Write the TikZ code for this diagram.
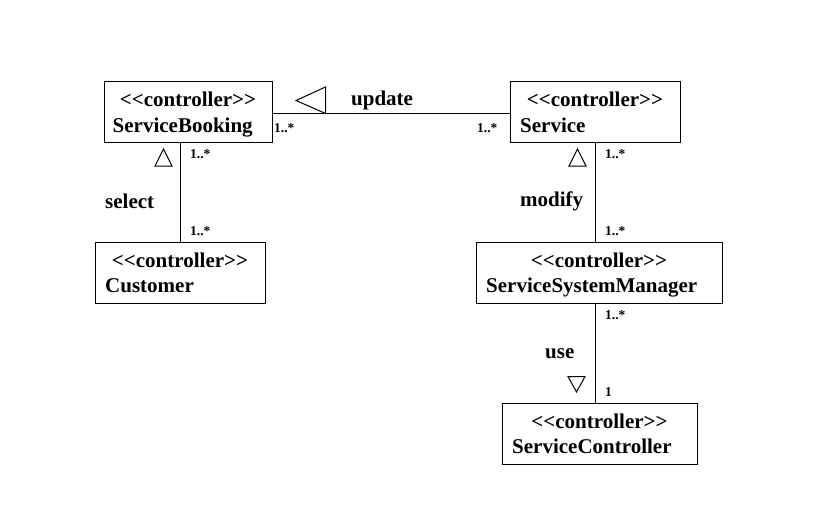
\documentclass[tikz,border=0pt]{standalone}
\usepackage{fontspec}
\setmainfont{Liberation Serif}[Ligatures=TeXOff]
\begin{document}
\begin{tikzpicture}[x=1pt,y=-1pt,
  box/.style={draw, line width=1pt, inner sep=0pt, minimum height=61, anchor=north west},
  stereo/.style={inner sep=0pt, anchor=base, font=\fontsize{21}{24}\selectfont\bfseries},
  cname/.style={inner sep=0pt, anchor=base west, font=\fontsize{21}{24}\selectfont\bfseries},
  lbl/.style={inner sep=0pt, anchor=west, font=\fontsize{21}{24}\selectfont\bfseries},
  mult/.style={inner sep=0pt, anchor=west, font=\fontsize{13.5}{16}\selectfont\bfseries},
  conn/.style={line width=1pt},
  tri/.style={line width=1pt, line join=miter}]
\useasboundingbox[fill=white] (0,0) rectangle (835,525);

% boxes
\node[box, minimum width=168] (sb) at (103.5,80.5) {};
\node[box, minimum width=170] (sv) at (509.5,80.5) {};
\node[box, minimum width=170] (cu) at (94.5,241.5) {};
\node[box, minimum width=246] (ssm) at (475.5,241.5) {};
\node[box, minimum width=195] (sc) at (501.5,402.5) {};

% texts
\node[stereo] (sbs) at (sb.north |- 0,106) {<<controller>>};
\node[cname] (sbn) at (112.5,132.5) {ServiceBooking};
\node[stereo] (svs) at (sv.north |- 0,106) {<<controller>>};
\node[cname] (svn) at (520,132.5) {Service};
\node[stereo] (cus) at (cu.north |- 0,267) {<<controller>>};
\node[cname] (cun) at (105,292.5) {Customer};
\node[stereo] (ssms) at (ssm.north |- 0,267) {<<controller>>};
\node[cname] (ssmn) at (486,292.5) {ServiceSystemManager};
\node[stereo] (scs) at (sc.north |- 0,428) {<<controller>>};
\node[cname] (scn) at (512,453.5) {ServiceController};

% connectors
\draw[conn] (sb.east |- 0,113.5) -- (sv.west |- 0,113.5);
\draw[conn] (cu.north) -- (cu.north |- sb.south);
\draw[conn] (sv.south) -- (sv.south |- ssm.north);
\draw[conn] (sv.south |- ssm.south) -- (sv.south |- sc.north);

% triangles
\draw[tri] (296,100.5) -- (325.5,87) -- (325.5,113.5) -- cycle;
\draw[tri] (155,166) -- (163.5,149) -- (172,166) -- cycle;
\draw[tri] (569,166) -- (577.5,149) -- (586,166) -- cycle;
\draw[tri] (568,376.5) -- (576.5,392) -- (585,376.5) -- cycle;

% labels
\node[lbl] (lupd) at (351,100) {update};
\node[lbl] (lsel) at (105,201) {select};
\node[lbl] (lmod) at (520,201) {modify};
\node[lbl] (luse) at (545,354) {use};

% multiplicities
\node[mult] (m1) at (274,128) {1..*};
\node[mult] (m2) at (477,128) {1..*};
\node[mult] (m3) at (190,154) {1..*};
\node[mult] (m4) at (190,231) {1..*};
\node[mult] (m5) at (605,154) {1..*};
\node[mult] (m6) at (605,231) {1..*};
\node[mult] (m7) at (605,315) {1..*};
\node[mult] (m8) at (605,392) {1};
\end{tikzpicture}
\end{document}
